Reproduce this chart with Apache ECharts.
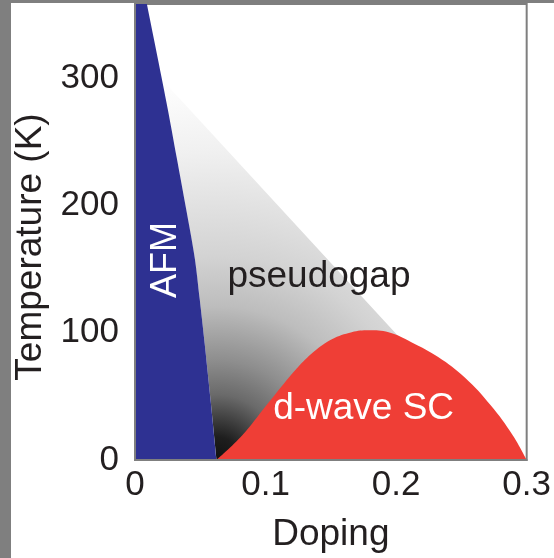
<!DOCTYPE html>
<html>
<head>
<meta charset="utf-8">
<script src="https://cdn.jsdelivr.net/npm/echarts@6/dist/echarts.min.js"></script>
<style>
  html, body { margin: 0; padding: 0; background: #fff; }
  #chart { width: 554px; height: 558px; }
</style>
</head>
<body>
<div id="chart"></div>
<script>
// Axis ticks
const xTicks = [0, 0.1, 0.2, 0.3];
const xTickLabels = ['0', '0.1', '0.2', '0.3'];
const yTicks = [0, 100, 200, 300];
const yTickLabels = ['0', '100', '200', '300'];

// Antiferromagnetic phase boundary [doping, T (K)]; it runs on above the plotted range
const afmBoundary = [
  [0, 400], [0.0009, 400], [0.0091, 358], [0.0175, 315], [0.025, 276], [0.032, 237],
  [0.039, 198], [0.0457, 159], [0.0495, 127], [0.0533, 92], [0.058, 46], [0.0624, 0]
];

// Pseudogap crossover line T* [doping, T (K)]
const tStarLine = [[0.0205, 299], [0.21, 88]];

// Superconducting dome Tc [doping, T (K)]
const scDome = [
  [0.0624, 0], [0.0822, 19.4], [0.1005, 42.7], [0.1127, 58.3], [0.1256, 73.8],
  [0.1386, 86.3], [0.1508, 94.8], [0.166, 100.3], [0.1789, 101.8], [0.1942, 100.3],
  [0.2117, 92.5], [0.2322, 80.8], [0.2528, 64.5], [0.2726, 42.7], [0.2893, 19.4], [0.3, 0]
];

// Phase names and where they sit [doping, T (K)]
const phaseNames = ['AFM', 'pseudogap', 'd-wave SC'];
const phaseAnchors = [[0.0236, 157], [0.1409, 143.5], [0.1751, 40.4]];

const FONT = '"Liberation Sans", Arial, Helvetica, sans-serif';
const INK = '#231f20';
const FRAME = '#7f7f7f';

// Pseudogap region: under T*, right of the AFM boundary (dome drawn on top)
const afmLower = afmBoundary.filter(p => p[1] < tStarLine[0][1]).slice().reverse();
const pseudogapOutline = [
  ...tStarLine,
  [tStarLine[tStarLine.length - 1][0], 0],
  ...afmLower
];

const chart = echarts.init(document.getElementById('chart'), null, { renderer: 'canvas' });

chart.setOption({
  backgroundColor: '#ffffff',
  animation: false,
  graphic: [
    { type: 'rect', left: 0, top: 0, shape: { width: 11, height: 558 }, style: { fill: FRAME } },
    { type: 'rect', left: 0, top: 0, shape: { width: 554, height: 3 }, style: { fill: FRAME } }
  ],
  grid: {
    left: 135, right: 25, top: 4, bottom: 93,
    show: true, borderColor: FRAME, borderWidth: 2, backgroundColor: 'transparent'
  },
  xAxis: {
    type: 'value', min: 0, max: 0.3, interval: 0.1, z: 10,
    name: 'Doping', nameLocation: 'middle', nameGap: 56,
    nameTextStyle: { fontFamily: FONT, fontSize: 37, color: INK },
    axisLine: { show: true, lineStyle: { color: FRAME, width: 2 } },
    axisTick: { show: false },
    splitLine: { show: false },
    axisLabel: {
      margin: 8, fontFamily: FONT, fontSize: 35, color: INK,
      formatter: v => {
        const i = xTicks.findIndex(t => Math.abs(t - v) < 1e-9);
        return i >= 0 ? xTickLabels[i] : '';
      }
    }
  },
  yAxis: {
    type: 'value', min: 0, max: 358, interval: 100, z: 10,
    name: 'Temperature (K)', nameLocation: 'middle', nameRotate: 90, nameGap: 84,
    nameTextStyle: { fontFamily: FONT, fontSize: 37, color: INK, padding: [0, 30, 0, 0] },
    axisLine: { show: true, lineStyle: { color: FRAME, width: 2 } },
    axisTick: { show: false },
    splitLine: { show: false },
    axisLabel: {
      margin: 16, fontFamily: FONT, fontSize: 35, color: INK,
      formatter: v => {
        const i = yTicks.findIndex(t => Math.abs(t - v) < 1e-9);
        return i >= 0 ? yTickLabels[i] : '';
      }
    }
  },
  series: [
    {
      name: 'pseudogap',
      type: 'custom',
      z: 1,
      silent: true,
      clip: true,
      data: [[0, 0]],
      renderItem: function (params, api) {
        const pts = pseudogapOutline.map(p => api.coord(p));
        const c = api.coord(afmBoundary[afmBoundary.length - 1]);
        const s = api.coord(tStarLine[0]);
        const r = Math.hypot(s[0] - c[0], s[1] - c[1]);
        return {
          type: 'polygon',
          shape: { points: pts },
          style: {
            fill: new echarts.graphic.RadialGradient(c[0], c[1], r, [
              { offset: 0.0, color: '#111111' },
              { offset: 0.06, color: '#1e1e1e' },
              { offset: 0.17, color: '#6a6a6a' },
              { offset: 0.26, color: '#8e8e8e' },
              { offset: 0.4, color: '#bdbdbd' },
              { offset: 0.53, color: '#d3d3d3' },
              { offset: 0.8, color: '#f0f0f0' },
              { offset: 1.0, color: '#ffffff' }
            ], true),
            stroke: null
          }
        };
      }
    },
    {
      name: 'AFM',
      type: 'line',
      z: 2,
      silent: true,
      clip: true,
      data: afmBoundary,
      smooth: 0.3,
      showSymbol: false,
      lineStyle: { width: 0 },
      itemStyle: { color: '#2e3192' },
      areaStyle: { color: '#2e3192', opacity: 1 }
    },
    {
      name: 'd-wave SC',
      type: 'line',
      z: 3,
      silent: true,
      data: scDome,
      smooth: 0.4,
      showSymbol: false,
      lineStyle: { width: 0 },
      itemStyle: { color: '#ef3e36' },
      areaStyle: { color: '#ef3e36', opacity: 1 }
    },
    {
      name: 'labels',
      type: 'scatter',
      z: 5,
      silent: true,
      symbolSize: 0,
      itemStyle: { opacity: 1, color: 'transparent' },
      data: phaseNames.map((n, i) => ({
        name: n,
        value: phaseAnchors[i],
        label: {
          show: true,
          position: 'inside',
          formatter: '{b}',
          rotate: i === 0 ? 90 : 0,
          fontFamily: FONT,
          fontSize: i === 0 ? 36 : 37,
          color: i === 1 ? INK : '#ffffff',
          opacity: 1,
          align: 'center',
          verticalAlign: 'middle'
        }
      }))
    }
  ]
});
</script>
</body>
</html>
